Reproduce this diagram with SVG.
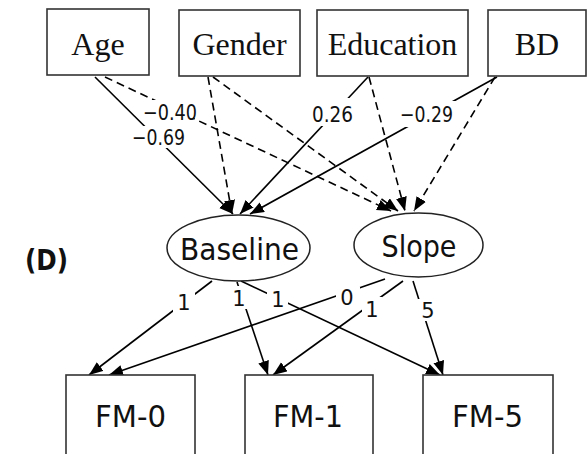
<svg xmlns="http://www.w3.org/2000/svg" width="587" height="454" viewBox="0 0 587 454">
<defs>
<marker id="ah" markerUnits="userSpaceOnUse" markerWidth="15" markerHeight="12" refX="14" refY="5.5" orient="auto">
<path d="M0,0 L14,5.5 L0,11 Z" fill="#000"/>
</marker>
<style>
.box{fill:#fff;stroke:#333;stroke-width:1.6}
.ell{fill:#fff;stroke:#222;stroke-width:1.5}
.serif{font-family:"Liberation Serif","Times New Roman",serif;font-size:32px;fill:#111;text-anchor:middle}
.sans{font-family:"DejaVu Sans",Verdana,sans-serif;font-size:31px;fill:#111}
.e{fill:none;stroke:#000;stroke-width:1.6;marker-end:url(#ah)}
.d{stroke-dasharray:8 5}
.bg{fill:#fff}
.lab{font-family:"DejaVu Sans",Verdana,sans-serif;font-size:22px;fill:#111}
.lab1{font-family:"DejaVu Sans",Verdana,sans-serif;font-size:21px;fill:#111;text-anchor:middle}
</style>
</defs>
<rect width="587" height="454" fill="#fff"/>
<g id="connectors">
<line class="e" x1="95" y1="77" x2="233" y2="214"/>
<line class="e d" x1="105" y1="77" x2="391" y2="211"/>
<line class="e d" x1="208" y1="77" x2="232" y2="214"/>
<line class="e d" x1="213" y1="77" x2="398" y2="211"/>
<line class="e" x1="368" y1="77" x2="240" y2="214"/>
<line class="e d" x1="369" y1="77" x2="405" y2="211"/>
<line class="e" x1="497" y1="77" x2="250" y2="214"/>
<line class="e d" x1="495" y1="77" x2="414" y2="211"/>
<line class="e" x1="212" y1="281" x2="89" y2="375"/>
<line class="e" x1="237" y1="282" x2="268" y2="375"/>
<line class="e" x1="241" y1="281" x2="440" y2="375"/>
<line class="e" x1="385" y1="279" x2="109" y2="375"/>
<line class="e" x1="403" y1="281" x2="273" y2="375"/>
<line class="e" x1="413" y1="281" x2="443" y2="375"/>
<rect class="bg" x="143" y="100" width="50" height="23"/>
<rect class="bg" x="130" y="126" width="57" height="22"/>
<rect class="bg" x="308" y="98" width="48" height="28"/>
<rect class="bg" x="396" y="101" width="60" height="26"/>
<rect class="bg" x="173" y="291" width="22" height="23"/>
<rect class="bg" x="229" y="286" width="20" height="23"/>
<rect class="bg" x="267" y="289" width="21" height="21"/>
<rect class="bg" x="336" y="287" width="24" height="21"/>
<rect class="bg" x="362" y="297" width="20" height="22"/>
<rect class="bg" x="418" y="299" width="18" height="22"/>
<text class="lab" x="143" y="120" textLength="54" lengthAdjust="spacingAndGlyphs">−0.40</text>
<text class="lab" x="132" y="145" textLength="53" lengthAdjust="spacingAndGlyphs">−0.69</text>
<text class="lab" x="312" y="121.5" textLength="41" lengthAdjust="spacingAndGlyphs">0.26</text>
<text class="lab" x="400" y="121.5" textLength="53" lengthAdjust="spacingAndGlyphs">−0.29</text>
<text class="lab1" x="184" y="310">1</text>
<text class="lab1" x="239" y="306">1</text>
<text class="lab1" x="278" y="307">1</text>
<text class="lab1" x="347" y="305">0</text>
<text class="lab1" x="372" y="317">1</text>
<text class="lab1" x="428" y="318">5</text>
</g>
<g id="age"><rect class="box" x="47" y="9" width="102" height="66"/><text class="serif" x="98" y="55">Age</text></g>
<g id="gender"><rect class="box" x="179" y="10" width="121" height="66"/><text class="serif" x="239.5" y="55">Gender</text></g>
<g id="education"><rect class="box" x="317" y="10" width="151" height="66"/><text class="serif" x="392.5" y="55">Education</text></g>
<g id="bd"><rect class="box" x="488" y="10" width="98" height="66"/><text class="serif" x="537" y="55">BD</text></g>
<g id="baseline"><ellipse class="ell" cx="238.5" cy="248" rx="71.5" ry="33"/><text class="sans" x="180" y="260" textLength="119" lengthAdjust="spacingAndGlyphs">Baseline</text></g>
<g id="slope"><ellipse class="ell" cx="418.5" cy="245" rx="64.5" ry="32"/><text class="sans" x="381.5" y="257" textLength="75" lengthAdjust="spacingAndGlyphs">Slope</text></g>
<g id="label-d"><text x="25" y="270" font-family="'DejaVu Sans',Verdana,sans-serif" font-size="29" font-weight="bold" fill="#111" textLength="43" lengthAdjust="spacingAndGlyphs">(D)</text></g>
<g id="fm0"><rect class="box" x="66" y="375" width="129" height="90"/><text class="sans" x="95" y="427" textLength="71" lengthAdjust="spacingAndGlyphs">FM-0</text></g>
<g id="fm1"><rect class="box" x="245" y="375" width="128" height="90"/><text class="sans" x="273" y="427" textLength="70" lengthAdjust="spacingAndGlyphs">FM-1</text></g>
<g id="fm5"><rect class="box" x="423" y="375" width="130" height="90"/><text class="sans" x="452" y="427" textLength="71" lengthAdjust="spacingAndGlyphs">FM-5</text></g>
</svg>
